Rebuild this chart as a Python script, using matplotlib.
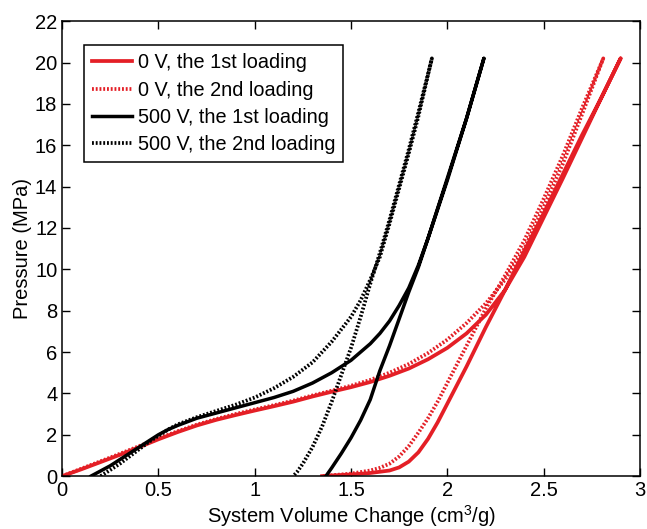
import matplotlib
matplotlib.use("Agg")
import matplotlib.pyplot as plt

plt.rcParams['font.family'] = ['Liberation Sans', 'DejaVu Sans']
plt.rcParams['mathtext.fontset'] = 'custom'
plt.rcParams['mathtext.rm'] = 'Liberation Sans'

# 0 V, 1st loading (loading branch then unloading branch)
red1_x = [0.0, 0.1, 0.2, 0.3, 0.4, 0.5, 0.6, 0.7, 0.8, 0.9, 1.0, 1.1, 1.2, 1.3, 1.4,
          1.5, 1.6, 1.7, 1.8, 1.9, 2.0, 2.1, 2.2, 2.3, 2.4, 2.5, 2.6, 2.7, 2.8, 2.9,
          2.8, 2.7, 2.6, 2.5, 2.4, 2.3, 2.2, 2.1, 2.0, 1.95, 1.9, 1.85, 1.8, 1.75,
          1.7, 1.6, 1.5, 1.4, 1.35]
red1_y = [0.0, 0.33, 0.68, 1.03, 1.4, 1.78, 2.13, 2.45, 2.72, 2.95, 3.17, 3.38, 3.6, 3.85, 4.08,
          4.3, 4.55, 4.85, 5.2, 5.65, 6.2, 6.9, 7.8, 9.0, 10.6, 12.5, 14.4, 16.35, 18.3, 20.2,
          18.3, 16.5, 14.6, 12.7, 10.9, 9.0, 7.2, 5.3, 3.5, 2.6, 1.8, 1.15, 0.7, 0.42,
          0.27, 0.15, 0.08, 0.03, 0.0]

# 0 V, 2nd loading
red2_x = [0.0, 0.1, 0.2, 0.3, 0.4, 0.5, 0.6, 0.7, 0.8, 0.9, 1.0, 1.1, 1.2, 1.3, 1.4,
          1.5, 1.6, 1.7, 1.8, 1.9, 2.0, 2.1, 2.2, 2.3, 2.4, 2.5, 2.6, 2.7, 2.81,
          2.7, 2.6, 2.5, 2.4, 2.3, 2.2, 2.1, 2.0, 1.95, 1.9, 1.85, 1.8, 1.75,
          1.7, 1.65, 1.6, 1.5, 1.4, 1.35]
red2_y = [0.0, 0.36, 0.72, 1.08, 1.45, 1.82, 2.17, 2.49, 2.76, 3.0, 3.22, 3.43, 3.65, 3.9, 4.13,
          4.37, 4.65, 5.0, 5.42, 5.95, 6.6, 7.4, 8.35, 9.5, 11.0, 13.0, 15.1, 17.5, 20.2,
          17.8, 15.5, 13.4, 11.4, 9.7, 8.1, 6.3, 4.5, 3.6, 2.8, 2.1, 1.45, 0.95,
          0.6, 0.4, 0.27, 0.12, 0.04, 0.0]

# 500 V, 1st loading
blk1_x = [0.15, 0.2, 0.25, 0.3, 0.35, 0.4, 0.45, 0.5, 0.55, 0.6, 0.7, 0.8, 0.9, 1.0, 1.1,
          1.2, 1.3, 1.4, 1.5, 1.6, 1.65, 1.7, 1.75, 1.8, 1.85, 1.9, 2.0, 2.1, 2.19,
          2.1, 2.0, 1.9, 1.85, 1.8, 1.75, 1.7, 1.65, 1.6, 1.55, 1.5, 1.45, 1.4, 1.37]
blk1_y = [0.0, 0.25, 0.5, 0.8, 1.1, 1.4, 1.7, 2.0, 2.25, 2.45, 2.8, 3.05, 3.3, 3.55, 3.8,
          4.1, 4.5, 5.0, 5.6, 6.4, 6.9, 7.5, 8.25, 9.1, 10.2, 11.5, 14.3, 17.3, 20.2,
          17.3, 14.4, 11.5, 10.1, 8.9, 7.6, 6.3, 5.1, 3.7, 2.7, 1.85, 1.1, 0.4, 0.0]

# 500 V, 2nd loading
blk2_x = [0.2, 0.25, 0.3, 0.35, 0.4, 0.45, 0.5, 0.55, 0.6, 0.7, 0.8, 0.9, 1.0, 1.1, 1.2,
          1.3, 1.35, 1.4, 1.45, 1.5, 1.55, 1.6, 1.65, 1.7, 1.75, 1.8, 1.85, 1.92,
          1.85, 1.8, 1.75, 1.7, 1.65, 1.6, 1.55, 1.5, 1.45, 1.4, 1.35, 1.3, 1.25, 1.22, 1.2]
blk2_y = [0.0, 0.3, 0.6, 0.95, 1.3, 1.65, 1.95, 2.25, 2.5, 2.85, 3.15, 3.45, 3.8, 4.25, 4.8,
          5.5, 6.0, 6.5, 7.1, 7.7, 8.5, 9.5, 10.6, 12.2, 13.9, 15.6, 17.4, 20.2,
          17.6, 15.8, 14.1, 12.4, 10.8, 9.3, 7.7, 6.2, 4.9, 3.6, 2.4, 1.4, 0.6, 0.2, 0.0]

labels = ['0 V, the 1st loading', '0 V, the 2nd loading',
          '500 V, the 1st loading', '500 V, the 2nd loading']
xticks = [0, 0.5, 1, 1.5, 2, 2.5, 3]
xticklabels = ['0', '0.5', '1', '1.5', '2', '2.5', '3']
yticks = list(range(0, 23, 2))

red = '#e41f26'
dots = (0, (0.5, 0.5))

fig = plt.figure(figsize=(6.47, 5.29), dpi=100)
ax = fig.add_axes([0.096, 0.100, 0.893, 0.860])

ax.plot(red1_x, red1_y, color=red, lw=2.7, label=labels[0])
ax.plot(red2_x, red2_y, color=red, lw=2.7, linestyle=dots, label=labels[1])
ax.plot(blk1_x, blk1_y, color='black', lw=2.5, label=labels[2])
ax.plot(blk2_x, blk2_y, color='black', lw=2.7, linestyle=dots, label=labels[3])

ax.set_xlim(0, 3)
ax.set_ylim(0, 22)
ax.set_xticks(xticks)
ax.set_xticklabels(xticklabels)
ax.set_yticks(yticks)
ax.tick_params(direction='in', top=True, right=True, length=6, width=1, labelsize=14.5)
for s in ax.spines.values():
    s.set_linewidth(1.1)

ax.set_xlabel('System Volume Change (cm$^3$/g)', fontsize=14.5, labelpad=2)
ax.set_ylabel('Pressure (MPa)', fontsize=14.5, labelpad=2)

leg = ax.legend(loc='upper left', bbox_to_anchor=(0.038, 0.947), borderaxespad=0,
                fontsize=14.3, handlelength=2.0, handletextpad=0.3, labelspacing=0.42,
                fancybox=False, framealpha=1, edgecolor='black', borderpad=0.4)
leg.get_frame().set_linewidth(1.1)

plt.savefig('out.png', dpi=100)
